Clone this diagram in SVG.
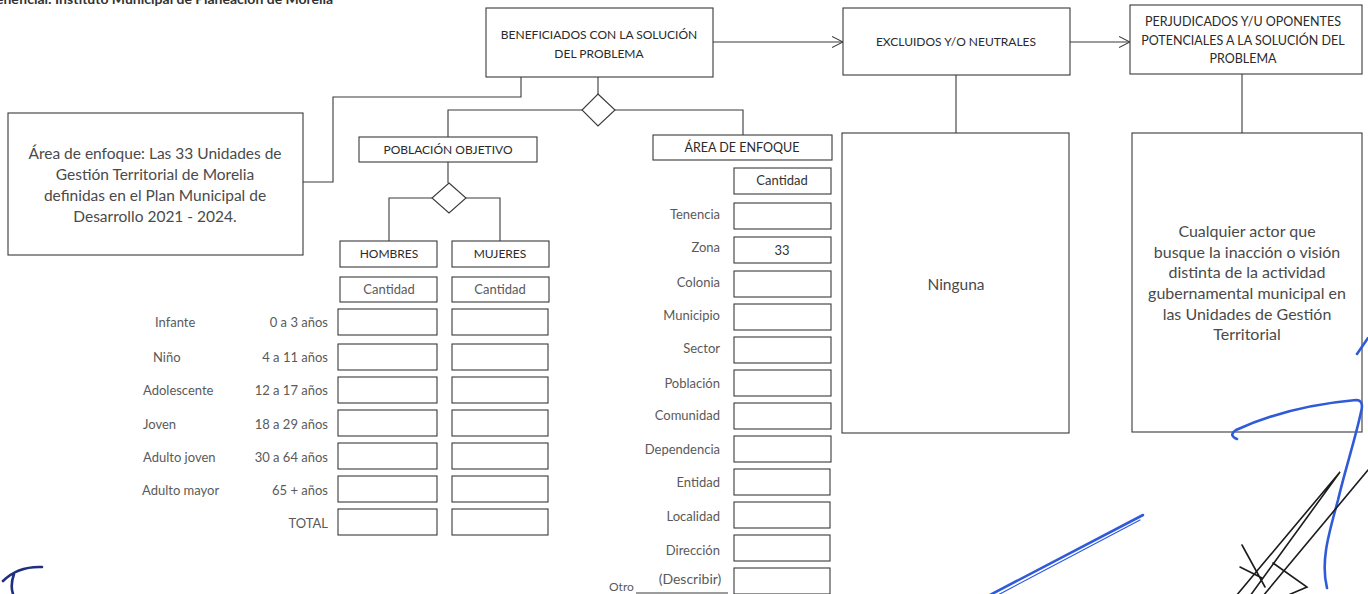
<svg xmlns="http://www.w3.org/2000/svg" width="1368" height="594" viewBox="0 0 1368 594">
<style>
text{font-family:Lato,"Liberation Sans",Arial,sans-serif}
.box{fill:#fff;stroke:#3a3a3a;stroke-width:1.1}
.conn{fill:none;stroke:#3a3a3a;stroke-width:1.1}
.hdr{font-size:12px;fill:#2a2a2a;text-anchor:middle}
.mid{text-anchor:middle}
.end{text-anchor:end}
.lbl{font-size:13px;fill:#5a5a5a}
.big{font-size:15.5px;fill:#4a4a4a;text-anchor:middle}
.sig{fill:none;stroke:#2f5bd8;stroke-width:2.6;stroke-linecap:round;stroke-linejoin:round}
.ink{fill:none;stroke:#1c1c1c;stroke-width:1.6;stroke-linecap:round}
</style>
<defs>
<marker id="chev" markerWidth="12" markerHeight="12" refX="11" refY="6" orient="auto" markerUnits="userSpaceOnUse">
<path d="M0,0.5 L11,6 L0,11.5" fill="none" stroke="#3a3a3a" stroke-width="1.1"/>
</marker>
</defs>
<rect width="1368" height="594" fill="#fff"/>

<text x="-4" y="4" style="font-size:14px;font-weight:bold;fill:#333">eneficial: Instituto Municipal de Planeación de Morelia</text>

<g id="connectors">
<path class="conn" d="M713,42 H843" marker-end="url(#chev)"/>
<path class="conn" d="M1070,42 H1130" marker-end="url(#chev)"/>
<path class="conn" d="M956,75 V133"/>
<path class="conn" d="M1242,74 V133"/>
<path class="conn" d="M303,182 H333 V97 H521 V77"/>
<path class="conn" d="M598,77 V94"/>
<path class="conn" d="M582,110 H448 V137"/>
<path class="conn" d="M615,110 H743 V135"/>
<path class="conn" d="M448,162 V183"/>
<path class="conn" d="M432,198 H389 V241"/>
<path class="conn" d="M466,198 H500 V241"/>
<path class="conn" d="M636,593 H728"/>
</g>

<g id="beneficiados">
<rect class="box" x="486" y="8" width="227" height="69"/>
<text class="hdr" x="599" y="39">BENEFICIADOS CON LA SOLUCIÓN</text>
<text class="hdr" x="599" y="58">DEL PROBLEMA</text>
</g>
<g id="excluidos">
<rect class="box" x="843" y="8" width="227" height="67"/>
<text class="hdr" x="956" y="46">EXCLUIDOS Y/O NEUTRALES</text>
</g>
<g id="perjudicados">
<rect class="box" x="1130" y="5" width="232" height="69"/>
<text class="hdr" x="1243" y="26" style="font-size:12.5px">PERJUDICADOS Y/U OPONENTES</text>
<text class="hdr" x="1243" y="45" style="font-size:12.5px">POTENCIALES A LA SOLUCIÓN DEL</text>
<text class="hdr" x="1243" y="63" style="font-size:12.5px">PROBLEMA</text>
</g>
<g id="decision1">
<path class="box" d="M598,94 L615,110 L598,126 L582,110 Z"/>
</g>
<g id="area-enfoque-texto">
<rect class="box" x="8" y="113" width="295" height="142"/>
<text class="big" x="155" y="159">Área de enfoque: Las 33 Unidades de</text>
<text class="big" x="155" y="180">Gestión Territorial de Morelia</text>
<text class="big" x="155" y="201">definidas en el Plan Municipal de</text>
<text class="big" x="155" y="222">Desarrollo 2021 - 2024.</text>
</g>
<g id="ninguna">
<rect class="box" x="842" y="133" width="227" height="300"/>
<text class="big" x="956" y="290">Ninguna</text>
</g>
<g id="cualquier">
<rect class="box" x="1132" y="133" width="230" height="299"/>
<text class="big" x="1247" y="237" style="font-size:16px">Cualquier actor que</text>
<text class="big" x="1247" y="258" style="font-size:16px">busque la inacción o visión</text>
<text class="big" x="1247" y="278" style="font-size:16px">distinta de la actividad</text>
<text class="big" x="1247" y="299" style="font-size:16px">gubernamental municipal en</text>
<text class="big" x="1247" y="320" style="font-size:16px">las Unidades de Gestión</text>
<text class="big" x="1247" y="340" style="font-size:16px">Territorial</text>
</g>

<g id="poblacion-objetivo">
<rect class="box" x="359" y="137" width="178" height="25"/>
<text class="hdr" x="448" y="154">POBLACIÓN OBJETIVO</text>
</g>
<g id="decision2">
<path class="box" d="M449,183 L466,198 L449,213 L432,198 Z"/>
</g>
<g id="hombres">
<rect class="box" x="340" y="241" width="97" height="26"/>
<text class="hdr" x="389" y="258">HOMBRES</text>
<rect class="box" x="340" y="277" width="97" height="25"/>
<text class="lbl mid" x="389" y="294">Cantidad</text>
<rect class="box" x="338" y="309" width="99" height="26"/>
<rect class="box" x="338" y="344" width="99" height="26"/>
<rect class="box" x="338" y="377" width="99" height="26"/>
<rect class="box" x="338" y="410" width="99" height="26"/>
<rect class="box" x="338" y="443" width="99" height="26"/>
<rect class="box" x="338" y="476" width="99" height="26"/>
<rect class="box" x="338" y="509" width="99" height="26"/>
</g>
<g id="mujeres">
<rect class="box" x="452" y="241" width="97" height="26"/>
<text class="hdr" x="500" y="258">MUJERES</text>
<rect class="box" x="452" y="277" width="97" height="25"/>
<text class="lbl mid" x="500" y="294">Cantidad</text>
<rect class="box" x="452" y="309" width="96" height="26"/>
<rect class="box" x="452" y="344" width="96" height="26"/>
<rect class="box" x="452" y="377" width="96" height="26"/>
<rect class="box" x="452" y="410" width="96" height="26"/>
<rect class="box" x="452" y="443" width="96" height="26"/>
<rect class="box" x="452" y="476" width="96" height="26"/>
<rect class="box" x="452" y="509" width="96" height="26"/>
</g>
<g id="grupos-edad">
<text class="lbl" x="155" y="327">Infante</text>
<text class="lbl" x="153" y="362">Niño</text>
<text class="lbl" x="143" y="395">Adolescente</text>
<text class="lbl" x="143" y="429">Joven</text>
<text class="lbl" x="143" y="462">Adulto joven</text>
<text class="lbl" x="142" y="495">Adulto mayor</text>
<text class="lbl end" x="328" y="327">0 a 3 años</text>
<text class="lbl end" x="328" y="362">4 a 11 años</text>
<text class="lbl end" x="328" y="395">12 a 17 años</text>
<text class="lbl end" x="328" y="429">18 a 29 años</text>
<text class="lbl end" x="328" y="462">30 a 64 años</text>
<text class="lbl end" x="328" y="495">65 + años</text>
<text class="lbl end" x="328" y="528">TOTAL</text>
</g>

<g id="area-enfoque">
<rect class="box" x="653" y="135" width="179" height="25"/>
<text class="hdr" x="742" y="152" style="font-size:12.5px">ÁREA DE ENFOQUE</text>
<rect class="box" x="734" y="168" width="97" height="26"/>
<text class="lbl mid" x="782" y="185" style="fill:#333">Cantidad</text>
<rect class="box" x="734" y="203" width="97" height="26"/>
<rect class="box" x="734" y="237" width="97" height="26"/>
<text class="lbl mid" x="782" y="255" style="fill:#333">33</text>
<rect class="box" x="734" y="271" width="97" height="26"/>
<rect class="box" x="734" y="304" width="97" height="26"/>
<rect class="box" x="734" y="337" width="97" height="26"/>
<rect class="box" x="734" y="370" width="97" height="26"/>
<rect class="box" x="734" y="403" width="97" height="26"/>
<rect class="box" x="734" y="436" width="97" height="26"/>
<rect class="box" x="734" y="469" width="96" height="26"/>
<rect class="box" x="734" y="502" width="96" height="26"/>
<rect class="box" x="734" y="535" width="96" height="26"/>
<rect class="box" x="734" y="568" width="96" height="26"/>
<text class="lbl end" x="720" y="219">Tenencia</text>
<text class="lbl end" x="720" y="252">Zona</text>
<text class="lbl end" x="720" y="287">Colonia</text>
<text class="lbl end" x="720" y="320">Municipio</text>
<text class="lbl end" x="720" y="353">Sector</text>
<text class="lbl end" x="720" y="388">Población</text>
<text class="lbl end" x="720" y="420">Comunidad</text>
<text class="lbl end" x="720" y="454">Dependencia</text>
<text class="lbl end" x="720" y="487">Entidad</text>
<text class="lbl end" x="720" y="521">Localidad</text>
<text class="lbl end" x="720" y="555">Dirección</text>
<text class="lbl mid" x="690" y="584" style="font-size:14px">(Describir)</text>
<text class="lbl" x="609" y="591" style="font-size:12px">Otro</text>
</g>

<g id="firmas">
<path class="sig" d="M988,596 L1143,515"/>
<path class="sig" d="M996,596 L1140,520" style="stroke-width:1.2"/>
<path class="sig" d="M1237,439 C1232,437 1230,434 1236,430 C1260,419 1300,405 1356,400 C1362,400 1363,405 1361,412 C1355,440 1345,470 1338,500 C1330,530 1320,560 1327,588"/>
<path class="sig" d="M1357,354 L1368,338"/>
<path class="sig" d="M3,581 Q18,566 42,567 M14,574 Q10,585 13,594" style="stroke:#1f2f80"/>
<path class="ink" d="M1236,596 L1340,472 L1250,596"/>
<path class="ink" d="M1263,596 L1368,470"/>
<path class="ink" d="M1242,545 L1265,587 M1240,567 L1262,578 M1273,563 L1307,587 L1286,596"/>
</g>
</svg>
